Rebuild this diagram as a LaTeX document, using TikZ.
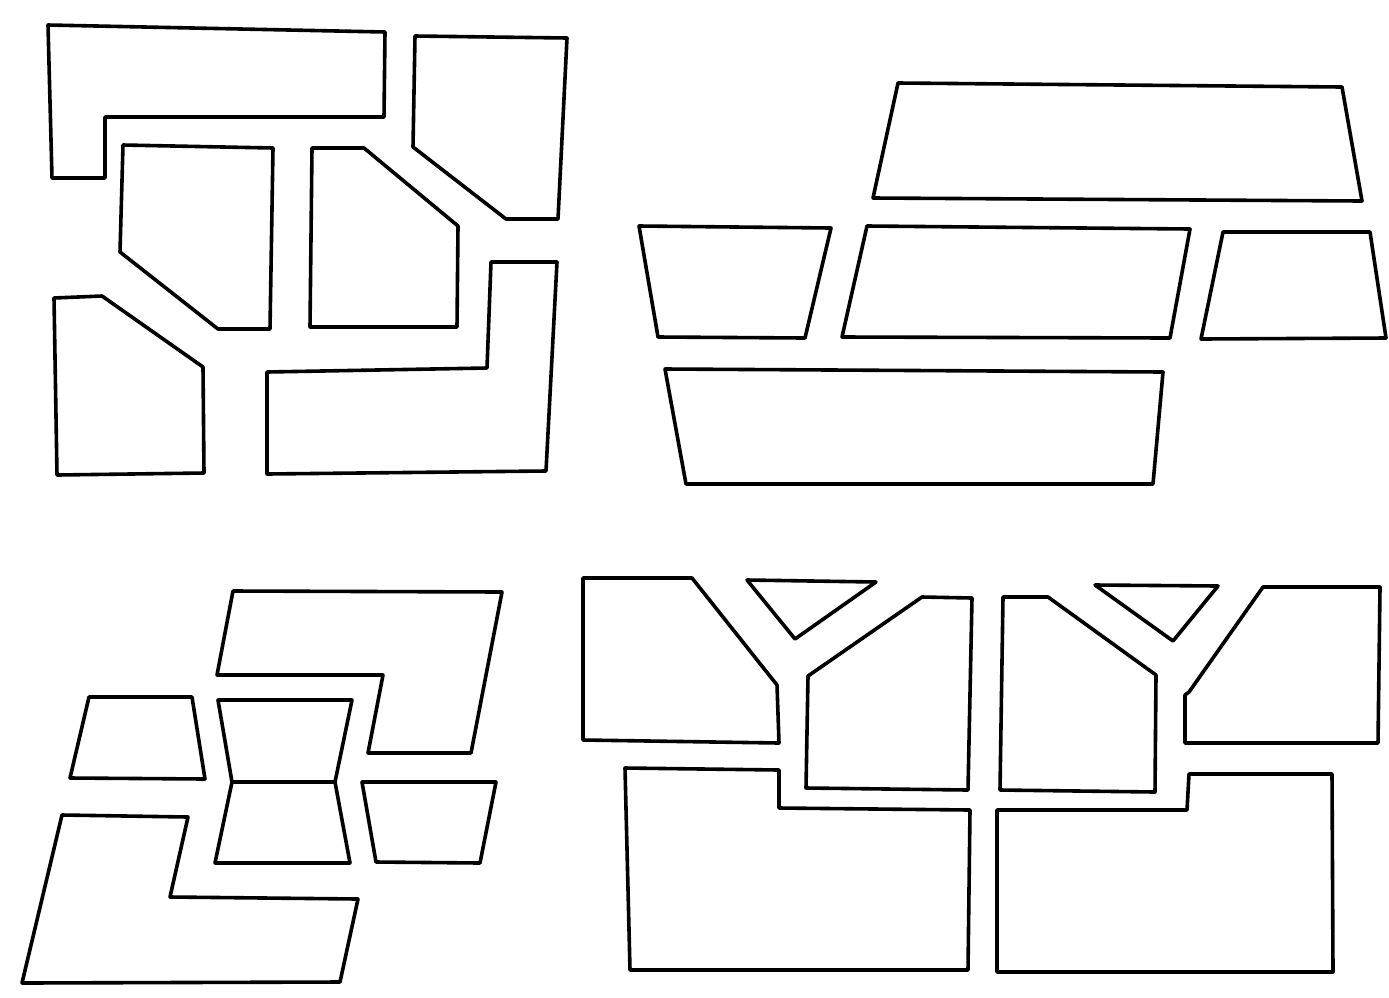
\documentclass[tikz,border=0pt]{standalone}
\begin{document}
\begin{tikzpicture}[x=1pt,y=-1pt,
  piece/.style={draw=black,line width=3.6pt,line join=round,line cap=round}]
\useasboundingbox[fill=white] (0,0) rectangle (1389,997);
% ---- top-left group ----
\draw[piece] (48,25) -- (385,32) -- (384,117) -- (105,117) -- (105,178) -- (52,178) -- cycle;
\draw[piece] (123,145) -- (273,148) -- (270,329) -- (218,329) -- (120,252) -- cycle;
\draw[piece] (415,36) -- (567,38) -- (558,219) -- (506,219) -- (413,147) -- cycle;
\draw[piece] (312,148) -- (364,148) -- (458,226) -- (457,327) -- (310,327) -- cycle;
\draw[piece] (54,298) -- (102,296) -- (203,367) -- (204,473) -- (57,475) -- cycle;
\draw[piece] (491,262) -- (557,262) -- (546,471) -- (267,474) -- (267,372) -- (487,368) -- cycle;
% ---- top-right group ----
\draw[piece] (898,83) -- (1342,87) -- (1362,201) -- (873,198) -- cycle;
\draw[piece] (639,226) -- (831,228) -- (805,338) -- (658,337) -- cycle;
\draw[piece] (867,226) -- (1190,229) -- (1170,338) -- (842,337) -- cycle;
\draw[piece] (1223,232) -- (1370,232) -- (1386,338) -- (1201,339) -- cycle;
\draw[piece] (665,369) -- (1163,372) -- (1153,484) -- (686,484) -- cycle;
% ---- bottom-left group ----
\draw[piece] (233,591) -- (502,592) -- (471,753) -- (368,753) -- (383,675) -- (217,675) -- cycle;
\draw[piece] (218,700) -- (352,700) -- (335,782) -- (232,782) -- cycle;
\draw[piece] (232,782) -- (335,782) -- (350,863) -- (215,863) -- cycle;
\draw[piece] (362,782) -- (496,782) -- (480,863) -- (376,862) -- cycle;
\draw[piece] (89,697) -- (192,697) -- (205,779) -- (70,778) -- cycle;
\draw[piece] (62,815) -- (188,817) -- (170,897) -- (358,899) -- (340,982) -- (22,983) -- cycle;
% ---- bottom-right group ----
\draw[piece] (583,578) -- (692,578) -- (777,685) -- (779,743) -- (583,740) -- cycle;
\draw[piece] (747,580) -- (876,582) -- (795,639) -- cycle;
\draw[piece] (922,597) -- (972,598) -- (968,790) -- (806,788) -- (808,676) -- cycle;
\draw[piece] (625,768) -- (779,770) -- (779,808) -- (970,810) -- (968,970) -- (630,970) -- cycle;
\draw[piece] (1003,597) -- (1048,597) -- (1156,675) -- (1155,792) -- (1000,790) -- cycle;
\draw[piece] (1095,585) -- (1218,586) -- (1173,641) -- cycle;
\draw[piece] (1189,692) -- (1263,587) -- (1380,587) -- (1378,743) -- (1185,743) -- (1185,695) -- cycle;
\draw[piece] (997,810) -- (1187,810) -- (1189,774) -- (1332,774) -- (1333,972) -- (997,972) -- cycle;
\end{tikzpicture}
\end{document}
